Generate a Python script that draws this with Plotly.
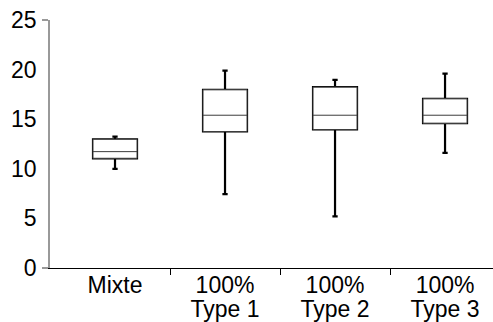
import plotly.graph_objects as go

categories = ["Mixte", "100%\nType 1", "100%\nType 2", "100%\nType 3"]
lower = [10.0, 7.45, 5.2, 11.6]
q1 = [11.06, 13.76, 13.96, 14.6]
median = [11.73, 15.4, 15.4, 15.4]
q3 = [12.97, 17.96, 18.23, 17.05]
upper = [13.24, 19.9, 18.96, 19.6]
yticks = [0, 5, 10, 15, 20, 25]

xpos = list(range(len(categories)))
line1 = [c.split("\n")[0] for c in categories]
line2 = [c.split("\n")[1] if "\n" in c else "" for c in categories]

fig = go.Figure()
# whiskers (thick black)
fig.add_trace(go.Box(
    x=xpos, q1=q1, median=median, q3=q3, lowerfence=lower, upperfence=upper,
    width=0.4, whiskerwidth=0.12, fillcolor="white",
    line=dict(color="black", width=2.2), boxpoints=False, hoverinfo="skip",
    showlegend=False))
# box body (thin gray), drawn on the overlay axis that carries the 2nd label line
fig.add_trace(go.Box(
    x=xpos, q1=q1, median=median, q3=q3, lowerfence=q1, upperfence=q3,
    width=0.4, whiskerwidth=0, fillcolor="white", xaxis="x2",
    line=dict(color="#3c3c3c", width=1), boxpoints=False,
    showlegend=False))

xr = [-0.591, 3.436]
fig.update_layout(
    width=493, height=322,
    margin=dict(l=50, r=0, t=20, b=54, autoexpand=False),
    paper_bgcolor="white", plot_bgcolor="white",
    font=dict(family="Liberation Sans, Arial, sans-serif", size=23, color="black"),
    showlegend=False,
    xaxis=dict(
        range=xr, tickmode="array", tickvals=xpos, ticktext=line1,
        ticks="", showgrid=False, zeroline=False,
        showline=True, linecolor="black", linewidth=1.3,
        ticklabelstandoff=-4,
        minor=dict(tickmode="array", tickvals=[0.5, 1.5, 2.5], ticks="outside",
                   ticklen=6, tickcolor="black", tickwidth=1.3, showgrid=False),
    ),
    xaxis2=dict(
        overlaying="x", side="bottom", anchor="y",
        range=xr, tickmode="array", tickvals=xpos, ticktext=line2,
        ticks="", showgrid=False, zeroline=False, showline=False,
        ticklabelstandoff=25,
    ),
    yaxis=dict(
        range=[0, 25], tickmode="array", tickvals=yticks, ticks="",
        showgrid=False, zeroline=False,
        showline=True, linecolor="#999999", linewidth=1.5,
        ticklabelstandoff=7,
        minor=dict(tickmode="array", tickvals=[0, 25], ticks="outside",
                   ticklen=6, tickcolor="#999999", tickwidth=1.5, showgrid=False),
    ),
)

fig.write_html(
    "out.html",
    config={"displayModeBar": False},
    post_script="document.body.style.margin='0';document.body.style.overflow='hidden';",
)
